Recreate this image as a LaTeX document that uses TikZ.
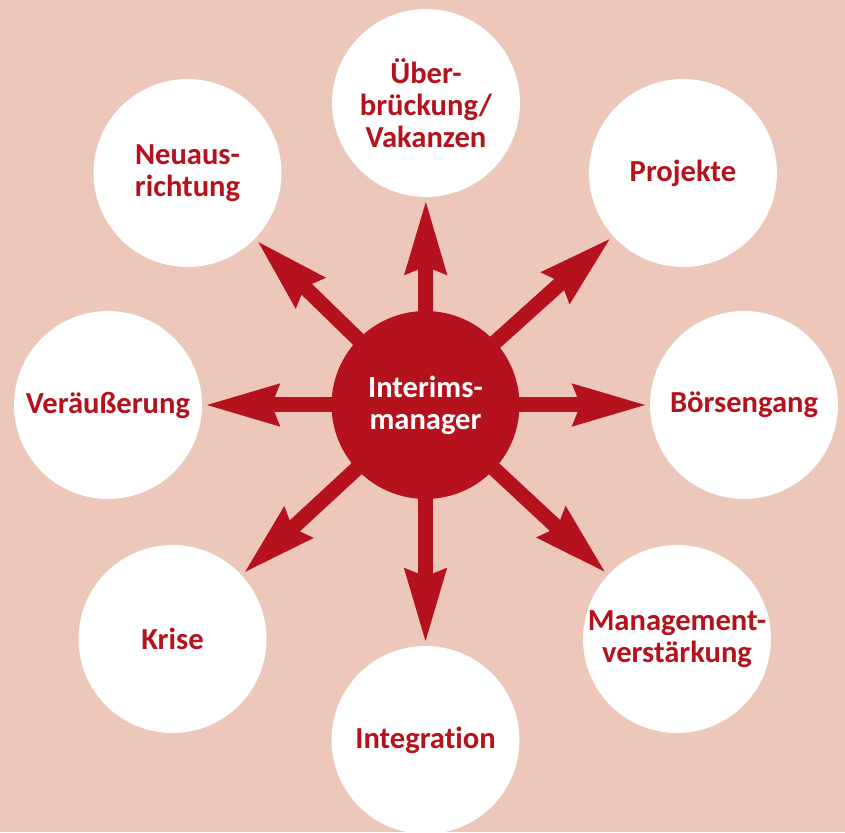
\documentclass[tikz,border=0pt]{standalone}
\usepackage{fontspec}
\setmainfont{Carlito}[Ligatures=NoCommon]
\usetikzlibrary{arrows.meta}
\definecolor{rosebg}{RGB}{237,199,185}
\definecolor{darkred}{RGB}{181,18,30}
\tikzset{
	every bubble/.style={
		circle,
		fill=white,
		minimum size=3.76cm,
		inner sep=0pt,
		align=center,
		text=darkred,
		font=\bfseries\fontsize{17.4}{18.2}\selectfont
	},
	bubble center/.style={
		fill=darkred,
		text=white
	},
	spoke/.style={
		draw=darkred,
		line width=0.3cm,
		-{Stealth[length=1.46cm, width=0.78cm, inset=0.12cm]},
		shorten <=-0.2cm,
		shorten >=0.04cm
	},
}
\begin{document}
\begin{tikzpicture}[x=0.02cm, y=0.02cm]

\fill [rosebg] (0,0) rectangle (845,832);
\useasboundingbox (0,0) rectangle (845,832);
\clip (0,0) rectangle (845,832);

\node [every bubble/.try, bubble center/.try] (manager) at (425.5,427) {Interims-\\manager};

\foreach \m/\l/\x/\y in {
	ueber/{Über-\\brückung/\\Vakanzen}/426/729,
	projekte/{Projekte}/683/659,
	boerse/{Börsengang}/744/427,
	management/{Management-\\verstärkung}/677/193,
	integration/{Integration}/425.5/92,
	krise/{Krise}/172.5/193,
	verkauf/{Veräußerung}/108/427,
	neu/{Neuaus-\\richtung}/187.5/659}
	\node [every bubble/.try, bubble \m/.try] (\m) at (\x,\y) {\l};

\foreach \m in {ueber,projekte,boerse,management,integration,krise,verkauf,neu}
	\draw [spoke] (manager) -- (\m);

\end{tikzpicture}
\end{document}
